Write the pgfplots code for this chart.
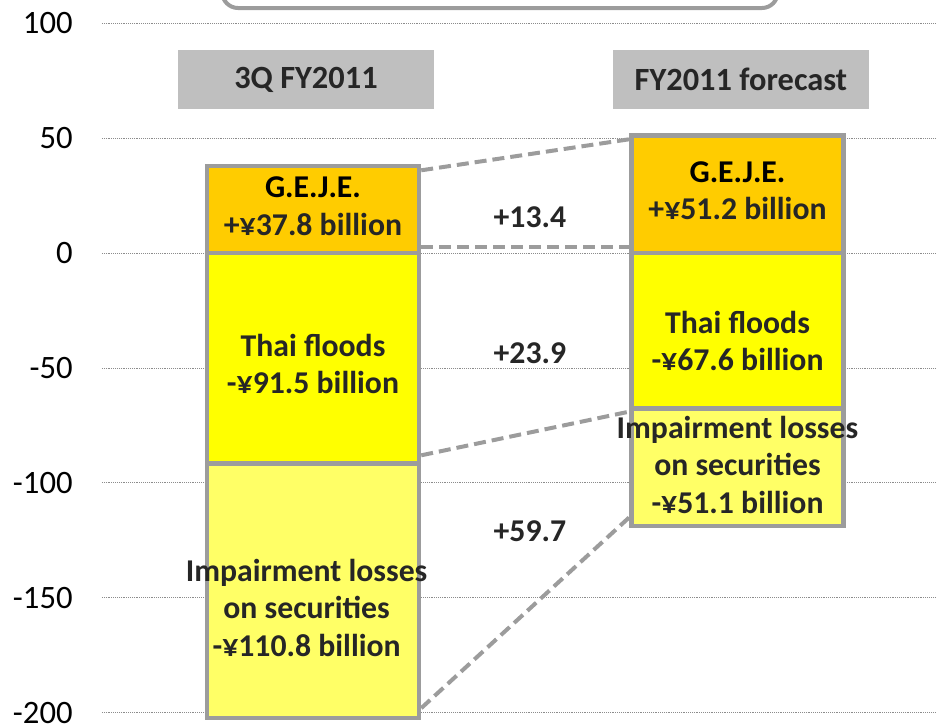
\documentclass[border=0pt]{standalone}
\usepackage{pgfplots}
\pgfplotsset{compat=1.18}
\usepackage{fontspec}
\setmainfont{Carlito}
\definecolor{geje}{HTML}{FFCC00}
\definecolor{thai}{HTML}{FFFF00}
\definecolor{imp}{HTML}{FFFF66}
\definecolor{bord}{HTML}{9C9C9C}
\definecolor{txt}{HTML}{262626}
\definecolor{hdr}{HTML}{BFBFBF}
\begin{document}
\begin{tikzpicture}
\begin{axis}[at={(76.5pt,0pt)}, anchor=south west, scale only axis,
  width=625.5pt, height=545.25pt,
  xmin=-0.497, xmax=1.4676, ymin=-206.2, ymax=110.1,
  ybar, bar shift=0pt, bar width=0.5,
  axis line style={draw=none}, major tick length=0pt,
  xtick=\empty,
  ytick={-200,-150,-100,-50,0,50,100},
  yticklabels={-200,-150,-100,-50,0,50,100},
  ymajorgrids, major grid style={densely dotted, black!45, line width=0.6pt},
  yticklabel style={font=\fontsize{24.5}{28}\selectfont, xshift=-18.5pt, text=black},
  clip=false,
  every axis plot/.append style={draw=bord, line width=3.5pt},
]
\addplot[fill=imp] coordinates {(0,-202.3) (1,-118.7)};
\addplot[fill=thai] coordinates {(0,-91.5) (1,-67.6)};
\addplot[fill=geje] coordinates {(0,37.8) (1,51.2)};

\draw[bord, line width=3pt, dash pattern=on 9pt off 4.5pt] (axis cs:0.255,36) -- (axis cs:0.745,49.5);
\draw[bord, line width=3pt, dash pattern=on 9pt off 4.5pt] (axis cs:0.255,2.8) -- (axis cs:0.745,2.8);
\draw[bord, line width=3pt, dash pattern=on 9pt off 4.5pt] (axis cs:0.255,-88) -- (axis cs:0.745,-69);
\draw[bord, line width=3pt, dash pattern=on 9pt off 4.5pt] (axis cs:0.255,-198) -- (axis cs:0.745,-115);

\draw[bord, line width=3pt, rounded corners=12pt, fill=white] (axis cs:-0.214,106.6) rectangle (axis cs:1.095,140);

\node[fill=hdr, minimum width=192pt, minimum height=44.25pt, inner sep=0pt, font=\bfseries\fontsize{24.3}{28}\selectfont, text=txt] at (axis cs:-0.0165,75.5) {3Q FY2011};
\node[fill=hdr, minimum width=192pt, minimum height=44.25pt, inner sep=0pt, font=\bfseries\fontsize{24.3}{28}\selectfont, text=txt] at (axis cs:1.008,75.5) {FY2011 forecast};

\tikzset{bl/.style={align=center, font=\bfseries\fontsize{23.8}{28.2}\selectfont, text=txt, inner sep=0pt}}
\node[bl] at (axis cs:0,20.4) {\textcolor{black}{G.E.J.E.}\\+¥37.8 billion};
\node[bl] at (axis cs:0,-48.2) {Thai floods\\-¥91.5 billion};
\node[bl] at (axis cs:-0.015,-154.3) {Impairment losses\\on securities\\-¥110.8 billion};
\node[bl] at (axis cs:1,27.1) {\textcolor{black}{G.E.J.E.}\\+¥51.2 billion};
\node[bl] at (axis cs:1,-38.2) {Thai floods\\-¥67.6 billion};
\node[bl] at (axis cs:1,-92.1) {Impairment losses\\on securities\\-¥51.1 billion};

\node[bl] at (axis cs:0.511,15.8) {+13.4};
\node[bl] at (axis cs:0.511,-43.4) {+23.9};
\node[bl] at (axis cs:0.511,-121.2) {+59.7};
\end{axis}
\pgfresetboundingbox
\useasboundingbox (0,0) rectangle (702pt,545.25pt);
\end{tikzpicture}
\end{document}
